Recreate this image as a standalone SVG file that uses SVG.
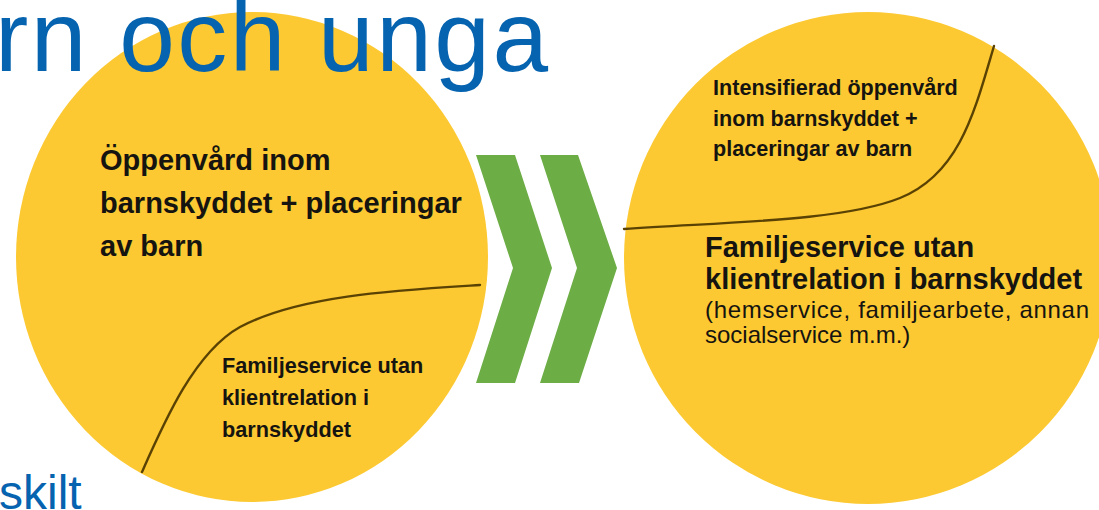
<svg xmlns="http://www.w3.org/2000/svg" width="1099" height="510" viewBox="0 0 1099 510">
<style>
.bg{fill:#ffffff}
.disc{fill:#FCC932}
.div{fill:none;stroke:#5A4204;stroke-width:2.4;stroke-linecap:round}
.chev{fill:#6DAD46}
.title{font-family:"Liberation Sans",Arial,sans-serif;fill:#0663B0}
.b{font-family:"Liberation Sans",Arial,sans-serif;font-weight:bold;fill:#161410}
.r{font-family:"Liberation Sans",Arial,sans-serif;fill:#161410}
</style>
<rect class="bg" x="0" y="0" width="1099" height="510"/>
<g id="circle-left">
<ellipse class="disc" cx="252" cy="257" rx="236" ry="245"/>
<path class="div" d="M 480 285 C 400 290, 300 295, 240 327 C 195 352, 165 420, 142 472"/>
<text class="b" font-size="29" x="100"><tspan x="100" y="170">Öppenvård inom</tspan><tspan x="100" y="212.5">barnskyddet + placeringar</tspan><tspan x="100" y="256">av barn</tspan></text>
<text class="b" font-size="21.7" x="222"><tspan x="222" y="373">Familjeservice utan</tspan><tspan x="222" y="405">klientrelation i</tspan><tspan x="222" y="437">barnskyddet</tspan></text>
</g>
<g id="circle-right">
<ellipse class="disc" cx="868" cy="258" rx="244" ry="246"/>
<path class="div" d="M 994 46 C 975 110, 960 174, 900 198 C 840 222, 720 222, 624 229"/>
<text class="b" font-size="21.6" x="713"><tspan x="713" y="95">Intensifierad öppenvård</tspan><tspan x="713" y="125.5">inom barnskyddet +</tspan><tspan x="713" y="156">placeringar av barn</tspan></text>
<text class="b" font-size="29" x="705"><tspan x="705" y="257">Familjeservice utan</tspan><tspan x="705" y="289">klientrelation i barnskyddet</tspan></text>
<text class="r" font-size="24" x="705" y="317.5" textLength="384" lengthAdjust="spacing">(hemservice, familjearbete, annan</text>
<text class="r" font-size="24" x="705" y="343">socialservice m.m.)</text>
</g>
<g id="connectors">
<polygon class="chev" points="476,155 515,155 552,268 515,383 476,383 513,268"/>
<polygon class="chev" points="540,155 578,155 617,268 579,383 540,383 577,268"/>
</g>
<g id="title">
<text class="title" font-size="100" x="-5" y="71" textLength="553" lengthAdjust="spacing">rn och unga</text>
<text class="title" font-size="48" x="-1" y="509">skilt</text>
</g>
</svg>
